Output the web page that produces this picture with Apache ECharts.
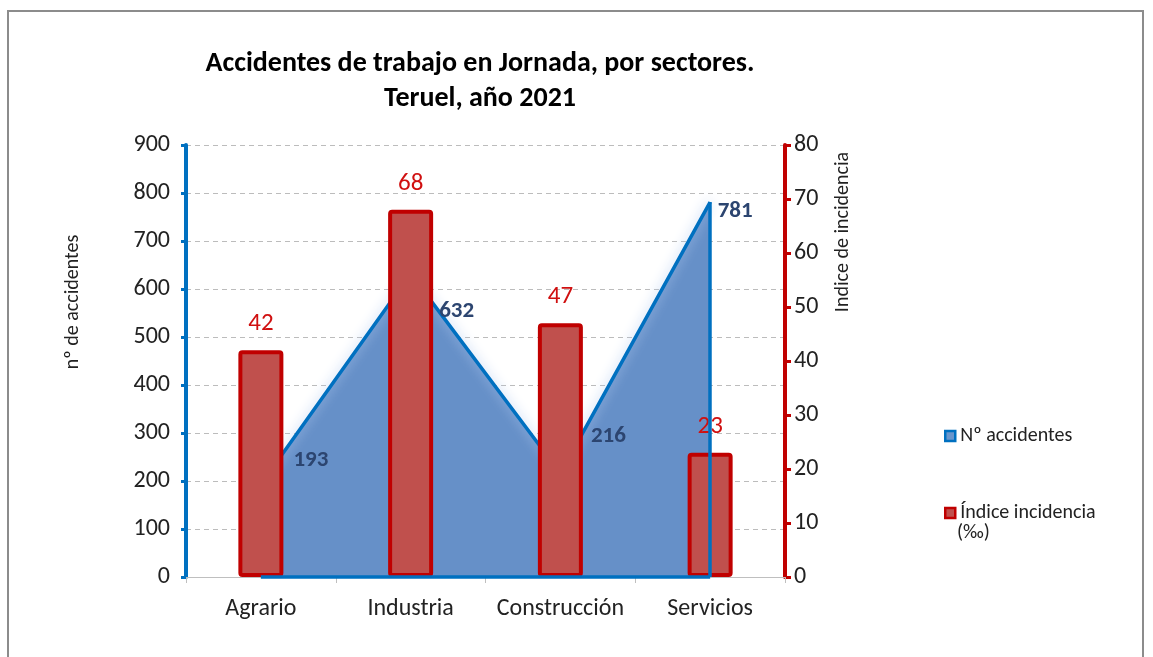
<!DOCTYPE html>
<html>
<head>
<meta charset="utf-8">
<script src="https://cdn.jsdelivr.net/npm/echarts@6/dist/echarts.min.js"></script>
<style>
    html, body { margin: 0; padding: 0; background: #fff; }
    #chart { width: 1153px; height: 657px; }
</style>
</head>
<body>
<div id="chart"></div>
<script>
var sectores = ["Agrario", "Industria", "Construcción", "Servicios"];
var accidentes = [193, 632, 216, 781];
var incidencia = [42, 68, 47, 23];
// desplazamiento de las etiquetas del área (como en el original)
var offsetsEtiqueta = [[50, -24], [46, 38], [48, -37], [25, 9]];

var fuente = 'Carlito, "Noto Sans", "Open Sans", sans-serif';

var myChart = echarts.init(document.getElementById("chart"));

var option = {
    backgroundColor: "#fff",
    textStyle: { fontFamily: fuente },
    title: {
        text: "Accidentes de trabajo en Jornada, por sectores.\nTeruel, año 2021",
        left: 475,
        top: 41,
        textAlign: "center",
        textStyle: {
            fontFamily: fuente,
            fontSize: 28,
            fontWeight: "bold",
            color: "#000",
            lineHeight: 35,
        },
    },
    legend: {
        orient: "vertical",
        left: 939,
        top: 419,
        itemGap: 53,
        itemWidth: 10,
        itemHeight: 10,
        textStyle: { fontFamily: fuente, fontSize: 20, color: "#222", lineHeight: 24 },
        data: [
            {
                name: "Nº accidentes",
                icon: "rect",
                itemStyle: { color: "#6a96cc", borderColor: "#0070c0", borderWidth: 2.5 },
            },
            {
                name: "Índice incidencia",
                icon: "rect",
                itemStyle: { color: "#c0504d", borderColor: "#c00000", borderWidth: 2.5 },
            },
        ],
    },
    grid: {
        left: 186,
        right: 368,
        top: 145,
        bottom: 80,
    },
    graphic: [
        {
            type: "rect",
            shape: { x: 8, y: 11, width: 1135, height: 680 },
            style: { fill: "none", stroke: "#8c8c8c", lineWidth: 2 },
            silent: true,
        },
        {
            type: "text",
            left: 957,
            top: 523,
            style: {
                text: "(‰)",
                fontFamily: fuente,
                fontSize: 20,
                fill: "#222",
            },
        },
        {
            type: "text",
            x: 73,
            y: 302,
            rotation: Math.PI / 2,
            style: {
                text: "nº de accidentes",
                fontFamily: fuente,
                fontSize: 20,
                fill: "#222",
                align: "center",
                verticalAlign: "middle",
            },
        },
        {
            type: "text",
            x: 843,
            y: 232,
            rotation: Math.PI / 2,
            style: {
                text: "Indice de incidencia",
                fontFamily: fuente,
                fontSize: 20,
                fill: "#222",
                align: "center",
                verticalAlign: "middle",
            },
        },
    ],
    xAxis: {
        type: "category",
        data: sectores,
        boundaryGap: true,
        axisLine: { lineStyle: { color: "#bfbfbf", width: 1 } },
        axisTick: { show: true, length: 6, lineStyle: { color: "#bfbfbf" } },
        axisLabel: { fontFamily: fuente, fontSize: 24, color: "#222", margin: 20, interval: 0 },
        splitLine: { show: false },
    },
    yAxis: [
        {
            type: "value",
            min: 0,
            max: 900,
            interval: 100,
            axisLine: { show: true, lineStyle: { color: "#0070c0", width: 4 } },
            axisTick: { show: true, length: 5, lineStyle: { color: "#0070c0", width: 3 } },
            axisLabel: { fontFamily: fuente, fontSize: 24, color: "#222", margin: 16 },
            splitLine: { show: true, lineStyle: { color: "#bcbcbc", type: [5, 4], width: 1 } },
        },
        {
            type: "value",
            min: 0,
            max: 80,
            interval: 10,
            position: "right",
            axisLine: { show: true, lineStyle: { color: "#c00000", width: 4 } },
            axisTick: { show: true, length: 6, lineStyle: { color: "#c00000", width: 3 } },
            axisLabel: { fontFamily: fuente, fontSize: 24, color: "#222", margin: 9 },
            splitLine: { show: false },
        },
    ],
    series: [
        {
            name: "Nº accidentes",
            type: "line",
            yAxisIndex: 0,
            symbol: "circle",
            symbolSize: 0.1,
            showSymbol: true,
            z: 2,
            lineStyle: {
                color: "#0070c0",
                width: 3.5,
                shadowColor: "rgba(175,200,240,0.95)",
                shadowBlur: 12,
            },
            itemStyle: { color: "#0070c0" },
            areaStyle: { color: "#6690c8", opacity: 1 },
            label: {
                show: true,
                position: "inside",
                fontFamily: fuente,
                fontSize: 23,
                fontWeight: "bold",
                color: "#2c4570",
            },
            data: accidentes.map(function (v, i) {
                return { value: v, label: { offset: offsetsEtiqueta[i] } };
            }),
            markLine: {
                silent: true,
                symbol: "none",
                label: { show: false },
                lineStyle: { color: "#0070c0", width: 3.5, type: "solid" },
                data: [
                    [{ coord: [sectores[3], 0] }, { coord: [sectores[3], accidentes[3]] }],
                    [{ coord: [sectores[0], 0] }, { coord: [sectores[3], 0] }],
                ],
            },
        },
        {
            name: "Índice incidencia",
            type: "bar",
            yAxisIndex: 1,
            barWidth: 45,
            z: 3,
            itemStyle: {
                color: "#c0504d",
                borderColor: "#c00000",
                borderWidth: 4,
                borderRadius: 2,
            },
            label: {
                show: true,
                position: "top",
                distance: 14,
                fontFamily: fuente,
                fontSize: 25,
                color: "#d01010",
            },
            data: incidencia,
        },
    ],
};

myChart.setOption(option);
window.addEventListener("resize", function () {
    myChart.resize();
});
</script>
</body>
</html>
